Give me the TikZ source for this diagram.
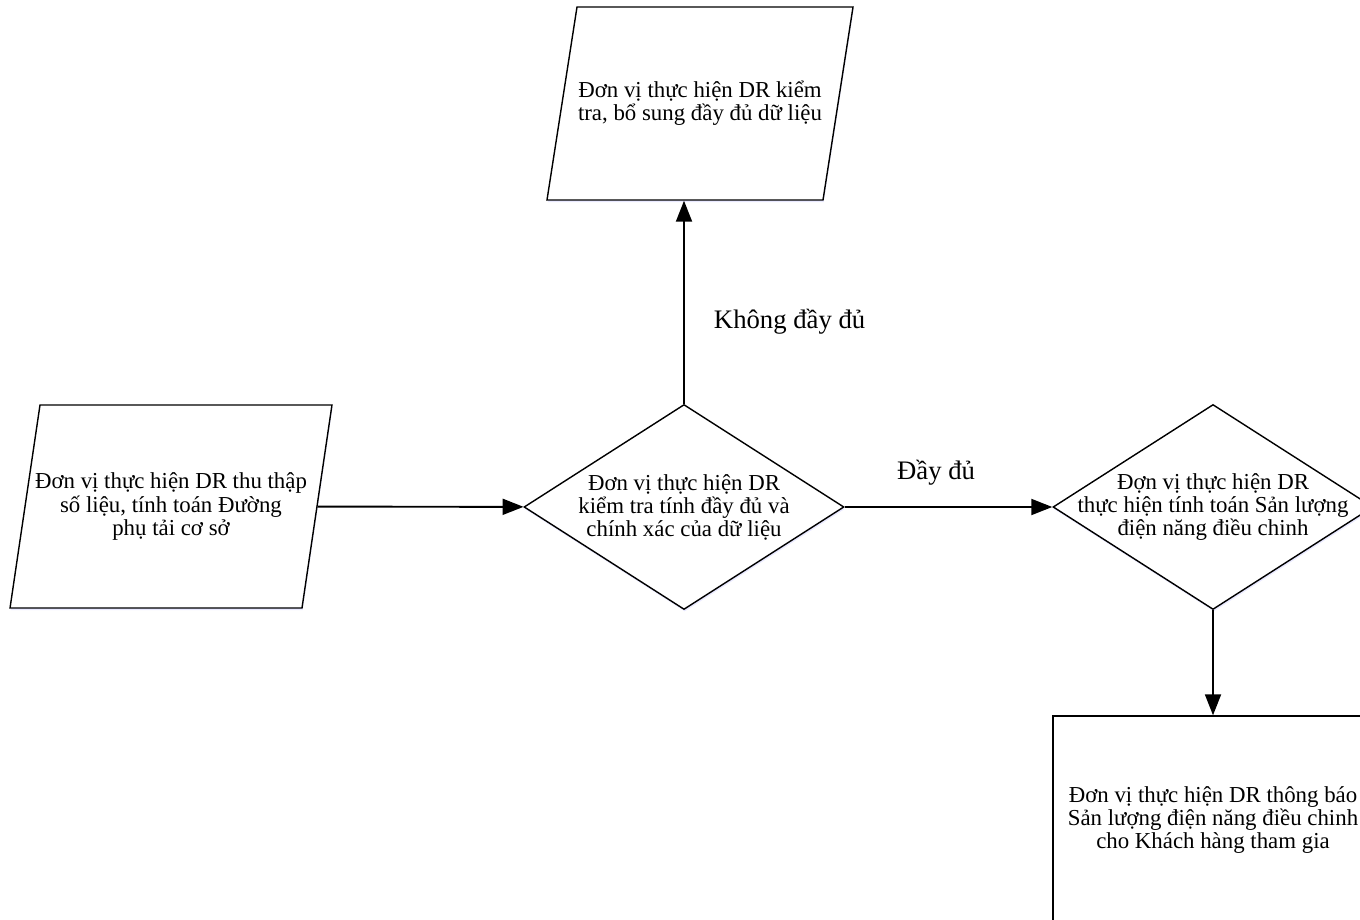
\documentclass[tikz,border=0pt]{standalone}
\usepackage{fontspec}
\setmainfont{Liberation Serif}
\usetikzlibrary{arrows.meta,positioning,calc,shapes.geometric,shadows}

\begin{document}
\begin{tikzpicture}[
  boxtext/.style={font=\fontsize{13}{13.1}\selectfont, align=center},
  softshadow/.style={drop shadow={shadow xshift=0.4pt, shadow yshift=-1.2pt, fill=blue!25, opacity=0.35}},
  inputbox/.style={trapezium, draw=black, thick, fill=white, softshadow},
  decision/.style={diamond, draw=black, thick, fill=white, minimum width=6.4cm, minimum height=4.1cm, softshadow},
  outbox/.style={rectangle, draw=black, thick, fill=white, minimum width=6.4cm, minimum height=4.16cm, softshadow, boxtext},
  flowlabel/.style={font=\fontsize{15.2}{17}\selectfont, inner sep=0pt}
]
  \useasboundingbox (0,0) rectangle (27.2,18.38);

  \node (start) [inputbox, trapezium left angle=81.6, trapezium right angle=98.4, inner xsep=2.62cm, inner ysep=2.03cm, label={[boxtext, name=starttext]center:{Đơn vị thực hiện DR thu thập\\số liệu, tính toán Đường\\phụ tải cơ sở}}] at (3.42,8.25) {};
  \node (check) [decision, label={[boxtext, name=checktext]center:{Đơn vị thực hiện DR\\kiểm tra tính đầy đủ và\\chính xác của dữ liệu}}] at (13.68,8.24) {};
  \node (fix) [inputbox, trapezium left angle=81.16, trapezium right angle=98.84, inner xsep=2.46cm, inner ysep=1.93cm, label={[boxtext, name=fixtext]center:{Đơn vị thực hiện DR kiểm\\tra, bổ sung đầy đủ dữ liệu}}] at (14.0,16.31) {};
  \node (calc) [decision, label={[boxtext, name=calctext]center:{Đợn vị thực hiện DR\\thực hiện tính toán Sản lượng\\điện năng điều chinh}}] at (24.26,8.24) {};
  \node (notify) [outbox] at (24.26,1.98) {Đơn vị thực hiện DR thông báo\\Sản lượng điện năng điều chinh\\cho Khách hàng tham gia};

  \path [-{Triangle[length=4.2mm,width=3.2mm]}] [line width=1.1pt]
  (start) edge (check)
  (check) edge node [pos=0.44, yshift=0.68cm, flowlabel]{Đầy đủ} (calc)
  (check.north) edge node [pos=0.405, anchor=west, xshift=0.58cm, flowlabel]{Không đầy đủ} (check.north |- fix.south)
  (calc) edge (notify);
\end{tikzpicture}
\end{document}
